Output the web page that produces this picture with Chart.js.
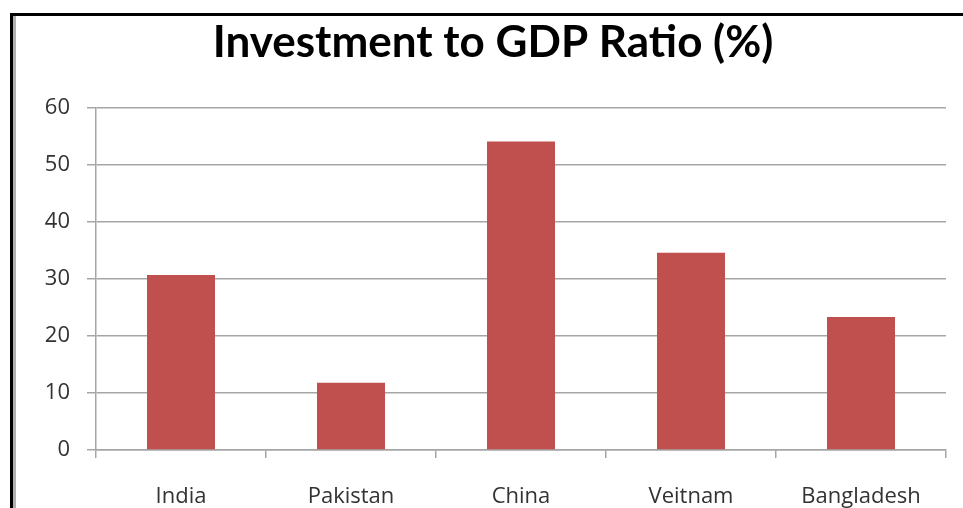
<!DOCTYPE html>
<html>
<head>
<meta charset="utf-8">
<script src="https://cdn.jsdelivr.net/npm/chart.js@4.4.1/dist/chart.umd.min.js"></script>
<style>
  html, body { margin: 0; padding: 0; background: #fff; }
  #wrap { position: relative; width: 963px; height: 508px; overflow: hidden; }
  #frame {
    position: absolute; left: 10px; top: 13px; right: -10px; bottom: -10px;
    border-top: 3px solid #000; border-left: 3px solid #000;
    box-shadow: inset 3px 0 0 #b0b0b0;
  }
  canvas { position: absolute; left: 0; top: 0; }
</style>
</head>
<body>
<div id="wrap">
  <div id="frame"></div>
  <canvas id="chart" width="963" height="508"></canvas>
</div>
<script>
// DATA
const countries = ["India", "Pakistan", "China", "Veitnam", "Bangladesh"];
const ratios = [30.7, 11.8, 54.1, 34.6, 23.3];
const yTicks = [0, 10, 20, 30, 40, 50, 60];

const gridGray = "#a6a6a6";
const labelFont = { family: "'Open Sans', sans-serif", size: 22 };

// CHART
const chart = new Chart(document.getElementById("chart"), {
  type: "bar",
  data: {
    labels: countries,
    datasets: [{
      data: ratios,
      backgroundColor: "#c0504d",
      borderWidth: 0,
      barPercentage: 0.4,
      categoryPercentage: 1
    }]
  },
  options: {
    responsive: false,
    animation: false,
    // left padding pushes the title centre right, y axis width makes up for it
    layout: { padding: { left: 40, right: 17, top: 0, bottom: 0 } },
    plugins: {
      legend: { display: false },
      tooltip: { enabled: false },
      title: {
        display: true,
        text: "Investment to GDP Ratio (%)",
        color: "#000",
        font: { family: "Lato, 'Open Sans', sans-serif", size: 44, weight: "bold" },
        padding: { top: 16, bottom: 39 }
      }
    },
    scales: {
      x: {
        afterFit: s => { s.height = 58; },
        grid: { drawOnChartArea: false, drawTicks: true, tickLength: 8, color: gridGray, lineWidth: 1.5 },
        border: { color: gridGray, width: 1.5 },
        ticks: { color: "#333", font: labelFont, padding: 26, maxRotation: 0 }
      },
      y: {
        min: 0,
        max: 60,
        afterBuildTicks: s => { s.ticks = yTicks.map(v => ({ value: v })); },
        afterFit: s => { s.width = 56; },
        grid: { color: gridGray, lineWidth: 1.5, tickLength: 9 },
        border: { color: gridGray, width: 1.5 },
        ticks: { color: "#333", font: labelFont, padding: 17 }
      }
    }
  }
});
</script>
</body>
</html>
